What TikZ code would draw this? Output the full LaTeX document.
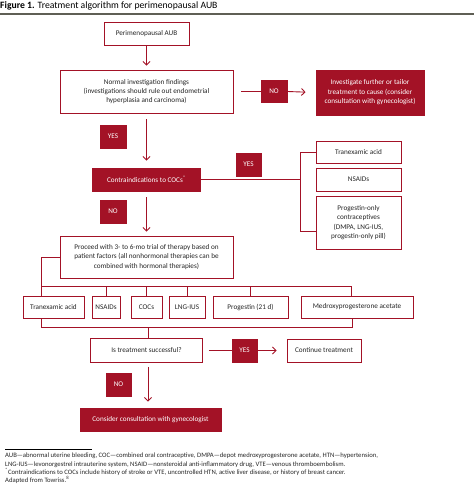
\documentclass[tikz,border=0pt]{standalone}
\usepackage{fontspec}
\setmainfont{Carlito}
\usetikzlibrary{arrows.meta}
\definecolor{brick}{RGB}{163,18,38}
\definecolor{rulegray}{RGB}{95,95,85}
\newcommand{\boxfont}{\fontsize{7.2}{9.4}\selectfont}
\tikzset{
  wbox/.style={draw=brick, line width=0.9pt, fill=white, text=black!85, align=center, inner sep=0pt, font=\boxfont},
  rbox/.style={wbox, fill=brick, text=white},
  sz/.style 2 args={minimum width=#1pt, minimum height=#2pt},
  flow/.style={draw=brick, line width=0.9pt},
  arr/.style={flow, -{Straight Barb[length=3.5pt,width=7pt]}}
}
\begin{document}
\begin{tikzpicture}[x=1pt,y=-1pt]
    \useasboundingbox (0,0) rectangle (474,486);
    % title and rule
    \node[anchor=west, inner sep=0pt, font=\fontsize{9.7}{11}\selectfont] (title) at (0,6)
        {\textbf{Figure 1.} Treatment algorithm for perimenopausal AUB};
    \draw[rulegray, line width=1.4pt] (0,14) -- (474,14);
    % main column
    \node[wbox, sz={85}{23}]  (aub)      at (146.5,33.5) {Perimenopausal AUB};
    \node[wbox, sz={173}{43}] (findings) at (146.5,91.5)
        {Normal investigation findings\\(investigations should rule out endometrial\\hyperplasia and carcinoma)};
    \node[rbox, sz={26}{22}]  (no1)      at (274,91.5) {NO};
    \node[rbox, sz={108}{45}] (invest)   at (370,92.5)
        {Investigate further or tailor\\treatment to cause (consider\\consultation with gynecologist)};
    \node[rbox, sz={26}{23}]  (yes1)     at (113,136.5) {YES};
    \node[rbox, sz={108}{23}] (contra)   at (146.5,179.5) {Contraindications to COCs\textsuperscript{*}};
    \node[rbox, sz={25}{23}]  (yes2)     at (248.5,164.5) {YES};
    % non-COC options
    \node[wbox, sz={85}{22}]  (tranexA)  at (358.5,152) {Tranexamic acid};
    \node[wbox, sz={85}{23}]  (nsaidA)   at (358.5,179.5) {NSAIDs};
    \node[wbox, sz={85}{53}]  (progA)    at (358.5,222.5)
        {Progestin-only\\contraceptives\\(DMPA, LNG-IUS,\\progestin-only pill)};
    \node[rbox, sz={26}{23}]  (no2)      at (113,211.5) {NO};
    \node[wbox, sz={173}{42}] (proceed)  at (146.5,257)
        {Proceed with 3- to 6-mo trial of therapy based on\\patient factors (all nonhormonal therapies can be\\combined with hormonal therapies)};
    % therapy row
    \node[wbox, sz={61}{22}]  (tranexB)  at (53.5,307) {Tranexamic acid};
    \node[wbox, sz={28}{22}]  (nsaidB)   at (106,307) {NSAIDs};
    \node[wbox, sz={31}{22}]  (cocB)     at (146.5,307) {COCs};
    \node[wbox, sz={36}{22}]  (lngB)     at (187,307) {LNG-IUS};
    \node[wbox, sz={75}{22}]  (progB)    at (250.5,307) {Progestin (21 d)};
    \node[wbox, sz={112}{22}] (medroxB)  at (357,307) {Medroxyprogesterone acetate};
    % outcome
    \node[wbox, sz={112}{24}] (success)  at (146.5,350.5) {Is treatment successful?};
    \node[rbox, sz={25}{23}]  (yes3)     at (244.5,350.5) {YES};
    \node[wbox, sz={74}{23}]  (cont)     at (324,350.5) {Continue treatment};
    \node[rbox, sz={25}{23}]  (no3)      at (118.5,384.5) {NO};
    \node[rbox, sz={141}{23}] (consult)  at (150.5,419.5) {Consider consultation with gynecologist};
    % connectors
    \draw[arr, shorten >=4pt] (aub) -- (findings);
    \draw[flow, shorten <=8pt] (findings.east) -- (no1.west);
    \draw[arr, shorten >=10pt] (no1.east) -- (invest.west);
    \draw[arr, shorten <=6pt, shorten >=7pt] (findings) -- (contra);
    \draw[arr, shorten <=6pt, shorten >=4pt] (contra) -- (proceed);
    \draw[flow] (tranexA.west) -- ++(-15,0) coordinate (brtop) -- (brtop |- 0,231) -- (progA.west |- 0,231);
    \draw[flow] (contra.east) -- (contra.east -| brtop);
    \coordinate (topbus) at (0,286);
    \coordinate (botbus) at (0,327);
    \draw[flow] (proceed.west) -| ([xshift=-12.5pt]tranexB.north);
    \draw[flow] ([xshift=-12.5pt]tranexB.north |- topbus) -- ([xshift=-6pt]medroxB.north |- topbus)
        -- ([xshift=-6pt]medroxB.north);
    \foreach \b in {nsaidB,cocB,lngB,progB}
        \draw[flow] (\b.north |- topbus) -- (\b.north);
    \draw[flow] ([xshift=-12.5pt]tranexB.south) |- ([xshift=-5pt]medroxB.south |- botbus)
        -- ([xshift=-5pt]medroxB.south);
    \draw[flow] ([xshift=1.5pt]success.north |- botbus) -- ([xshift=1.5pt]success.north);
    \draw[flow, shorten <=6pt] (success.east) -- (yes3.west);
    \draw[arr, shorten >=10pt] (yes3.east) -- (cont.west);
    \draw[arr, shorten <=4pt, shorten >=6pt] ([xshift=1.5pt]success.south) -- ([xshift=1.5pt]success.south |- consult.north);
    % footnotes
    \draw[black, line width=0.4pt] (5,449) -- (92,449);
    \node[anchor=north west, inner sep=0pt, align=left, text=black!85, font=\fontsize{6.7}{8.2}\selectfont] (notes) at (5,453)
        {AUB---abnormal uterine bleeding, COC---combined oral contraceptive, DMPA---depot medroxyprogesterone acetate, HTN---hypertension,\\
         LNG-IUS---levonorgestrel intrauterine system, NSAID---nonsteroidal anti-inflammatory drug, VTE---venous thromboembolism.\\
         \textsuperscript{*}Contraindications to COCs include history of stroke or VTE, uncontrolled HTN, active liver disease, or history of breast cancer.\\
         Adapted from Towriss.\textsuperscript{8}};
\end{tikzpicture}
\end{document}
